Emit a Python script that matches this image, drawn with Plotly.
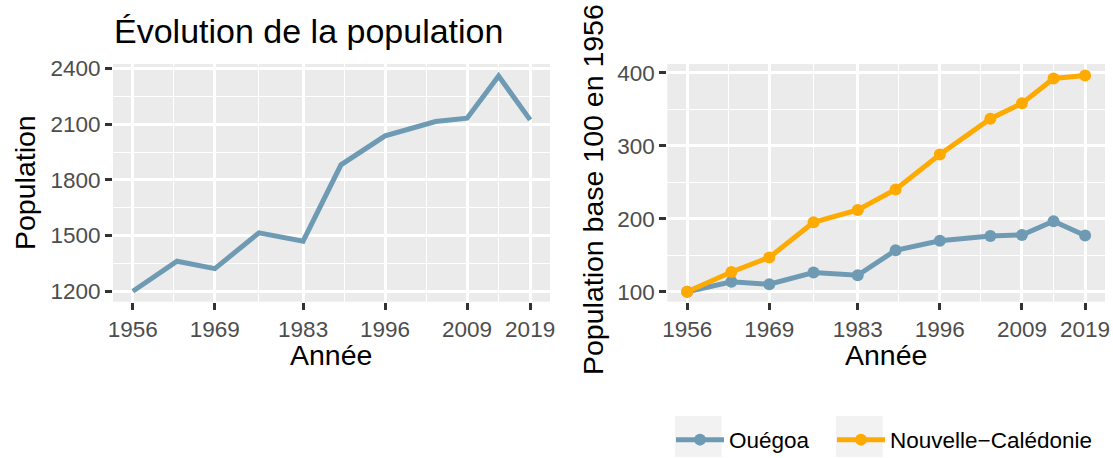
import plotly.graph_objects as go

years = [1956, 1963, 1969, 1976, 1983, 1989, 1996, 2004, 2009, 2014, 2019]
pop_ouegoa = [1200, 1362, 1322, 1515, 1470, 1881, 2037, 2114, 2132, 2359, 2123]
base100_nc = [100, 127, 147, 195, 212, 240, 288, 337, 358, 392, 396]
base100_ouegoa = [round(p / pop_ouegoa[0] * 100, 1) for p in pop_ouegoa]

x_ticks = [1956, 1969, 1983, 1996, 2009, 2019]
x_minor = [1962.5, 1976, 1989.5, 2002.5, 2014]
y_left_ticks = [1200, 1500, 1800, 2100, 2400]
y_left_minor = [1350, 1650, 1950, 2250]
y_right_ticks = [100, 200, 300, 400]
y_right_minor = [150, 250, 350]

BLUE = "#6E9BB3"
ORANGE = "#FFAA00"
FONT = "Liberation Sans, Arial, sans-serif"
W, H = 1113, 458

fig = go.Figure()
fig.add_trace(go.Scatter(x=years, y=pop_ouegoa, mode="lines",
                         line=dict(color=BLUE, width=5), showlegend=False,
                         xaxis="x", yaxis="y"))
fig.add_trace(go.Scatter(x=years, y=base100_ouegoa, mode="lines+markers", name="Ouégoa",
                         line=dict(color=BLUE, width=5), marker=dict(size=12, color=BLUE),
                         xaxis="x2", yaxis="y2", legend="legend"))
fig.add_trace(go.Scatter(x=years, y=base100_nc, mode="lines+markers", name="Nouvelle−Calédonie",
                         line=dict(color=ORANGE, width=5), marker=dict(size=12, color=ORANGE),
                         xaxis="x2", yaxis="y2", legend="legend2"))

def px_x(p):
    return p / W

def px_y(p):
    return (H - p) / H

common_axis = dict(showline=False, zeroline=False, ticks="outside", ticklen=7, tickwidth=2.5,
                   tickcolor="#333333", gridcolor="white", gridwidth=2.6, automargin=False,
                   tickfont=dict(family=FONT, size=22.5, color="#4D4D4D"))

xaxis_common = dict(common_axis, tickmode="array", tickvals=x_ticks,
                    ticktext=[str(t) for t in x_ticks], range=[1952.85, 2022.15],
                    minor=dict(tickmode="array", tickvals=x_minor, showgrid=True,
                               gridcolor="white", gridwidth=1.3, ticks=""))

legend_common = dict(orientation="h", xanchor="left", y=px_y(440), yanchor="middle",
                     font=dict(family=FONT, size=22.5, color="black"),
                     bgcolor="rgba(0,0,0,0)", itemwidth=48)

ydom = [px_y(301.7), px_y(64)]
fig.update_layout(
    width=W, height=H, margin=dict(l=0, r=0, t=0, b=0, autoexpand=False),
    paper_bgcolor="white", plot_bgcolor="#EBEBEB",
    font=dict(family=FONT),
    xaxis=dict(xaxis_common, domain=[px_x(113), px_x(550)], anchor="y"),
    yaxis=dict(common_axis, domain=ydom, anchor="x", range=[1144, 2424],
               tickmode="array", tickvals=y_left_ticks, ticktext=[str(t) for t in y_left_ticks],
               minor=dict(tickmode="array", tickvals=y_left_minor, showgrid=True,
                          gridcolor="white", gridwidth=1.3, ticks="")),
    xaxis2=dict(xaxis_common, domain=[px_x(667.3), px_x(1105)], anchor="y2"),
    yaxis2=dict(common_axis, domain=ydom, anchor="x2", range=[86.3, 411.9],
                tickmode="array", tickvals=y_right_ticks, ticktext=[str(t) for t in y_right_ticks],
                minor=dict(tickmode="array", tickvals=y_right_minor, showgrid=True,
                           gridcolor="white", gridwidth=1.3, ticks="")),
    legend=dict(legend_common, x=px_x(671)),
    legend2=dict(legend_common, x=px_x(832)),
    showlegend=True,
)

ann = []
ann.append(dict(text="Évolution de la population", x=px_x(112), y=px_y(31), xref="paper", yref="paper",
                xanchor="left", yanchor="middle", showarrow=False,
                font=dict(family=FONT, size=34, color="black")))
ann.append(dict(text="Année", x=px_x(331.5), y=px_y(355), xref="paper", yref="paper",
                xanchor="center", yanchor="middle", showarrow=False,
                font=dict(family=FONT, size=28.5, color="black")))
ann.append(dict(text="Année", x=px_x(886), y=px_y(355), xref="paper", yref="paper",
                xanchor="center", yanchor="middle", showarrow=False,
                font=dict(family=FONT, size=28.5, color="black")))
ann.append(dict(text="Population", x=px_x(25), y=px_y(183), xref="paper", yref="paper",
                xanchor="center", yanchor="middle", textangle=-90, showarrow=False,
                font=dict(family=FONT, size=28.5, color="black")))
ann.append(dict(text="Population base 100 en 1956", x=px_x(593), y=px_y(190), xref="paper", yref="paper",
                xanchor="center", yanchor="middle", textangle=-90, showarrow=False,
                font=dict(family=FONT, size=28.5, color="black")))
fig.update_layout(annotations=ann)

shapes = []
for x0 in (675, 836):
    shapes.append(dict(type="rect", xref="paper", yref="paper",
                       x0=px_x(x0), x1=px_x(x0 + 46.7), y0=px_y(457), y1=px_y(416),
                       fillcolor="#F2F2F2", line=dict(width=0), layer="below"))
fig.update_layout(shapes=shapes)

fig.write_html("out.html", config={"displayModeBar": False},
               post_script="document.body.style.margin='0';document.body.style.padding='0';")
